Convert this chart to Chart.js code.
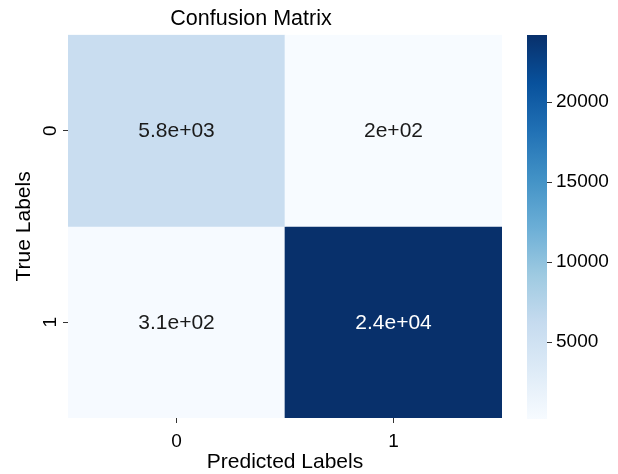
<!DOCTYPE html>
<html>
<head>
<meta charset="utf-8">
<script src="https://cdn.jsdelivr.net/npm/chart.js@4/dist/chart.umd.min.js"></script>
<style>
  html, body { margin: 0; padding: 0; background: #ffffff; }
  #wrap { position: relative; width: 618px; height: 474px; overflow: hidden; }
  #heat { position: absolute; left: 0; top: 0; }
  #cbar { position: absolute; left: 510px; top: 0; }
</style>
</head>
<body>
<div id="wrap">
  <canvas id="heat" width="570" height="474"></canvas>
  <canvas id="cbar" width="108" height="474"></canvas>
</div>
<script>
// Confusion matrix counts: rows = true label, columns = predicted label
const predictedLabels = ['0', '1'];
const trueLabels = ['0', '1'];
const trueRow0 = [5800, 200];
const trueRow1 = [310, 24200];
const colorbarTicks = [5000, 10000, 15000, 20000];

const rows = [trueRow0, trueRow1];
const allValues = rows.flat();
const vmin = Math.min(...allValues);
const vmax = Math.max(...allValues);

const FONT = '"Liberation Sans", Arial, Helvetica, sans-serif';

// "Blues" sequential colormap anchor colours
const BLUES = [
  [247, 251, 255], [222, 235, 247], [198, 219, 239], [158, 202, 225],
  [107, 174, 214], [66, 146, 198], [33, 113, 181], [8, 81, 156], [8, 48, 107]
];
function bluesRGB(t) {
  t = Math.max(0, Math.min(1, t));
  const p = t * (BLUES.length - 1);
  const i = Math.min(Math.floor(p), BLUES.length - 2);
  const f = p - i;
  return BLUES[i].map((c, k) => c + (BLUES[i + 1][k] - c) * f);
}
function rgbStr(c) { return `rgb(${Math.round(c[0])},${Math.round(c[1])},${Math.round(c[2])})`; }
function cellColor(v) { return bluesRGB((v - vmin) / (vmax - vmin)); }

// relative luminance decides dark / light annotation text
function luminance(c) {
  const lin = c.map(x => { x /= 255; return x <= 0.03928 ? x / 12.92 : Math.pow((x + 0.055) / 1.055, 2.4); });
  return 0.2126 * lin[0] + 0.7152 * lin[1] + 0.0722 * lin[2];
}

// ".2g" style number formatting
function fmtG2(v) {
  if (v === 0) return '0';
  const exp = Math.floor(Math.log10(Math.abs(Number(v.toPrecision(2)))));
  if (exp < -4 || exp >= 2) {
    let [mant, e] = v.toExponential(1).split('e');
    mant = mant.replace(/\.?0+$/, '');
    const sign = e[0] === '-' ? '-' : '+';
    const digits = e.replace(/[+-]/, '').padStart(2, '0');
    return `${mant}e${sign}${digits}`;
  }
  return String(Number(v.toPrecision(2)));
}

const cellLabels = {
  id: 'cellLabels',
  afterDatasetsDraw(chart) {
    const ctx = chart.ctx;
    ctx.save();
    ctx.font = `21px ${FONT}`;
    ctx.textAlign = 'center';
    ctx.textBaseline = 'middle';
    chart.data.datasets.forEach((ds, di) => {
      const meta = chart.getDatasetMeta(di);
      meta.data.forEach((el, i) => {
        const v = rows[di][i];
        const col = cellColor(v);
        ctx.fillStyle = luminance(col) > 0.408 ? '#1a1a1a' : '#ffffff';
        const cy = (el.y + el.base) / 2;
        ctx.fillText(fmtG2(v), el.x, cy + 1);
      });
    });
    ctx.restore();
  }
};

const yAxisText = {
  id: 'yAxisText',
  afterDraw(chart) {
    const ctx = chart.ctx;
    const ys = chart.scales.y;
    ctx.save();
    ctx.fillStyle = '#000000';
    ctx.textAlign = 'center';
    ctx.textBaseline = 'alphabetic';
    ctx.font = `19px ${FONT}`;
    ys.ticks.forEach((t, i) => {
      const py = ys.getPixelForValue(t.value);
      ctx.save();
      ctx.translate(ys.right - 12, py);
      ctx.rotate(-Math.PI / 2);
      ctx.fillText(trueLabels[i], 0, 0);
      ctx.restore();
    });
    ctx.font = `21px ${FONT}`;
    ctx.translate(30, (ys.top + ys.bottom) / 2);
    ctx.rotate(-Math.PI / 2);
    ctx.fillText('True Labels', 0, 0);
    ctx.restore();
  }
};

new Chart(document.getElementById('heat'), {
  type: 'bar',
  data: {
    labels: predictedLabels,
    datasets: rows.map((r, ri) => ({
      label: trueLabels[ri],
      data: r.map(() => [ri, ri + 1]),
      backgroundColor: r.map(v => rgbStr(cellColor(v))),
      borderWidth: 0,
      grouped: false,
      barPercentage: 1,
      categoryPercentage: 1
    }))
  },
  options: {
    responsive: false,
    animation: false,
    events: [],
    layout: { padding: { left: 0, right: 68, top: 0, bottom: 0 } },
    plugins: {
      legend: { display: false },
      tooltip: { enabled: false },
      title: {
        display: true,
        text: 'Confusion Matrix',
        color: '#000000',
        font: { family: FONT, size: 21.5, weight: 'normal' },
        padding: { top: 6, bottom: 3 }
      }
    },
    scales: {
      x: {
        type: 'category',
        grid: { offset: false, drawOnChartArea: false, drawTicks: true, tickLength: 5, tickColor: '#333333', tickWidth: 1 },
        border: { display: false },
        ticks: { color: '#000000', font: { family: FONT, size: 19 }, padding: 7, maxRotation: 0 },
        title: {
          display: true, text: 'Predicted Labels', color: '#000000',
          font: { family: FONT, size: 21, lineHeight: 1.1 }, padding: { top: 0, bottom: 0 }
        },
        afterFit(s) { s.height = 56; }
      },
      y: {
        type: 'linear',
        min: 0,
        max: trueLabels.length,
        reverse: true,
        afterBuildTicks(s) { s.ticks = trueLabels.map((_, i) => ({ value: i + 0.5 })); },
        ticks: { display: false },
        grid: { drawOnChartArea: false, drawTicks: true, tickLength: 5, tickColor: '#333333', tickWidth: 1 },
        border: { display: false },
        afterFit(s) { s.width = 68; }
      }
    }
  },
  plugins: [cellLabels, yAxisText]
});

new Chart(document.getElementById('cbar'), {
  type: 'bar',
  data: {
    labels: [''],
    datasets: [{
      data: [[vmin, vmax]],
      borderWidth: 0,
      barPercentage: 1,
      categoryPercentage: 1,
      backgroundColor(c) {
        const chart = c.chart;
        if (!chart.chartArea) return 'rgba(0,0,0,0)';
        const ys = chart.scales.y;
        const g = chart.ctx.createLinearGradient(0, ys.getPixelForValue(vmin), 0, ys.getPixelForValue(vmax));
        BLUES.forEach((col, i) => g.addColorStop(i / (BLUES.length - 1), rgbStr(col)));
        return g;
      }
    }]
  },
  options: {
    responsive: false,
    animation: false,
    events: [],
    layout: { padding: { left: 17, right: 0, top: 35, bottom: 55 } },
    plugins: { legend: { display: false }, tooltip: { enabled: false }, title: { display: false } },
    scales: {
      x: { display: false },
      y: {
        position: 'right',
        min: vmin,
        max: vmax,
        afterBuildTicks(s) { s.ticks = colorbarTicks.map(v => ({ value: v })); },
        ticks: { color: '#000000', font: { family: FONT, size: 19 }, padding: 4, callback: v => String(v) },
        grid: { drawOnChartArea: false, drawTicks: true, tickLength: 5, tickColor: '#333333', tickWidth: 1 },
        border: { display: false },
        afterFit(s) { s.width = 71; }
      }
    }
  }
});
</script>
</body>
</html>
